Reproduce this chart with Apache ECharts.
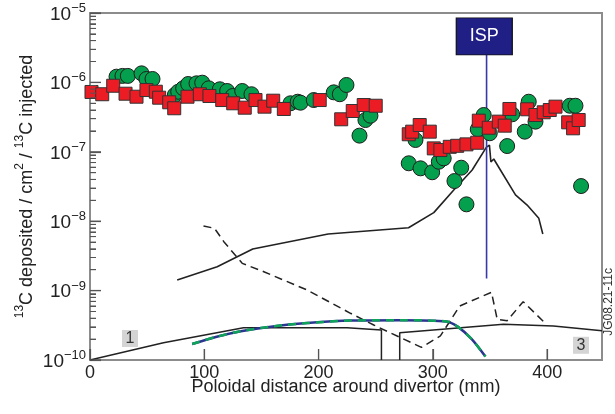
<!DOCTYPE html>
<html>
<head>
<meta charset="utf-8">
<script src="https://cdn.jsdelivr.net/npm/echarts@6/dist/echarts.min.js"></script>
<style>html,body{margin:0;padding:0;background:#fff}#c{width:615px;height:414px}</style>
</head>
<body>
<div id="c"></div>
<script>
// ---- data ----
var circleX = [23.2,28.4,33.1,45.1,49.4,54.7,74.2,77.2,81.5,85.9,93.2,98.2,103.9,113.6,120,124.9,133.2,141.3,175.4,181.8,184.2,195.8,213.3,218.6,224.4,235.8,241,245.4,284.8,278.9,289.2,299.4,305.2,309.5,318.9,324.8,329.4,339.3,344.5,349.8,365,369.4,380.4,383.9,389.8,419.8,424.8,429.7];
var circleY = [1.21e-6,1.24e-6,1.24e-6,1.35e-6,1.12e-6,1.12e-6,6.58e-7,7.34e-7,8.22e-7,9.48e-7,9.70e-7,9.91e-7,8.22e-7,7.96e-7,7.52e-7,6.37e-7,7.52e-7,6.75e-7,5.00e-7,5.27e-7,5.10e-7,5.57e-7,7.19e-7,6.75e-7,9.18e-7,1.71e-7,2.87e-7,3.31e-7,1.48e-7,6.83e-8,5.78e-8,5.07e-8,7.19e-8,8.05e-8,3.79e-8,5.90e-8,1.75e-8,2.11e-7,3.39e-7,1.85e-7,1.21e-7,3.47e-7,1.95e-7,5.27e-7,2.72e-7,4.61e-7,4.61e-7,3.21e-8];
var squareX = [1.3,10.7,20.3,31.1,40.7,49.4,57.6,60.5,69.3,73.7,85.3,96.1,104.5,115.7,125.3,135.4,144.8,152.7,160.3,169.6,201,219.8,229.9,239.5,250,278.9,281.9,288.5,297.3,300.8,306.6,314.8,321.3,329.4,338.8,340.2,348.9,357.7,362.9,367,382.5,389.8,397,402.3,407.3,418.4,422.7,427.6];
var squareY = [7.28e-7,6.75e-7,8.95e-7,6.87e-7,6.22e-7,7.76e-7,7.34e-7,6.02e-7,5.17e-7,4.24e-7,6.22e-7,6.75e-7,6.37e-7,5.57e-7,5.00e-7,4.32e-7,5.57e-7,4.47e-7,5.45e-7,4.14e-7,5.57e-7,2.94e-7,3.87e-7,4.72e-7,4.61e-7,1.79e-7,1.95e-7,2.43e-7,1.95e-7,1.12e-7,1.06e-7,1.18e-7,1.22e-7,1.28e-7,1.35e-7,2.81e-7,2.22e-7,2.72e-7,2.38e-7,4.14e-7,4.10e-7,3.39e-7,3.71e-7,4.00e-7,4.47e-7,2.66e-7,2.18e-7,2.87e-7];
var peakX = [76.3,111.3,142.4,208.4,278.7,300.8,318.3,334.4,346.9,349.5,350.8,353.3,359.1,372.3,382.5,392.7,396.2];
var peakY = [1.42e-9,2.21e-9,3.97e-9,6.54e-9,8.06e-9,1.33e-8,2.82e-8,5.47e-8,1.17e-7,1.25e-7,7.13e-8,7.87e-8,5.47e-8,2.39e-8,1.71e-8,1.10e-8,6.54e-9];
var dashX = [99.3,108.9,117.1,133.2,152.1,190,227.9,248.3,290,306.6,323.5,351.3,356.3,365,379,397];
var dashY = [8.53e-9,7.91e-9,5.07e-9,2.47e-9,1.87e-9,1.02e-9,4.71e-10,3.19e-10,1.52e-10,2.22e-10,6.0e-10,9.46e-10,3.86e-10,3.68e-10,6.92e-10,3.56e-10];
var lowX = [0,64.3,134.3,225,255,255,null,271,271,361.8,405.5,448];
var lowY = [1e-10,1.77e-10,2.92e-10,2.92e-10,2.70e-10,1e-10,null,1e-10,2.47e-10,3.27e-10,3.09e-10,2.64e-10];
var greenX = [89.4,110,132,160,190,228,272,312,322,334,346];
var greenY = [1.70e-10,2.15e-10,2.6e-10,3.05e-10,3.4e-10,3.7e-10,3.75e-10,3.6e-10,3.0e-10,2.0e-10,1.12e-10];
var ispX = 347;
var ispY = [1.5e-9,2.5e-6];
var xTicks = [0,100,200,300,400];
var yTicks = [1e-10,1e-9,1e-8,1e-7,1e-6,1e-5];

function zip(a,b){var r=[];for(var i=0;i<a.length;i++){r.push(a[i]===null?[null,null]:[a[i],b[i]]);}return r;}
var minor=[];
for(var e=-10;e<-5;e++){for(var k=2;k<=9;k++){minor.push(k*Math.pow(10,e));}}
var tickData=[];
xTicks.forEach(function(v){tickData.push([v,1e-10,0]);});
yTicks.forEach(function(v){tickData.push([0,v,1]);});
minor.forEach(function(v){tickData.push([0,v,2]);});

var FONT='"Liberation Sans", Arial, sans-serif';
var chart=echarts.init(document.getElementById('c'),null,{renderer:'canvas'});
var axisGray='#8c8c8c';
var tickColor='#555';
chart.setOption({
  animation:false,
  grid:{left:90,right:13,top:13,bottom:54,containLabel:false,outerBoundsMode:'none',show:true,borderColor:axisGray,borderWidth:2,backgroundColor:'transparent'},
  xAxis:{type:'value',min:0,max:448,interval:100,
    name:'Poloidal distance around divertor (mm)',nameLocation:'middle',nameGap:18,nameMoveOverlap:false,
    nameTextStyle:{fontSize:18,color:'#222',fontFamily:FONT},
    axisLine:{show:true,lineStyle:{color:axisGray,width:2}},
    axisTick:{show:true,inside:true,length:11,lineStyle:{color:tickColor,width:1.2}},
    axisLabel:{showMaxLabel:false,fontSize:18,color:'#222',margin:4,fontFamily:FONT},
    splitLine:{show:false}},
  yAxis:{type:'log',min:1e-10,max:1e-5,
    name:'{s|13}{n|C deposited / cm}{s|2}{n| / }{s|13}{n|C injected}',nameLocation:'middle',nameGap:54,nameRotate:90,nameMoveOverlap:false,
    nameTextStyle:{color:'#222',fontFamily:FONT,rich:{n:{fontSize:18,lineHeight:22,verticalAlign:'bottom',fontFamily:FONT,color:'#222'},s:{fontSize:12,lineHeight:22,verticalAlign:'top',fontFamily:FONT,color:'#222'}}},
    axisLine:{show:true,lineStyle:{color:axisGray,width:2}},
    axisTick:{show:true,inside:true,length:11,lineStyle:{color:tickColor,width:1.2}},
    minorTick:{show:true,splitNumber:9,length:6,lineStyle:{color:tickColor,width:1}},
    axisLabel:{margin:4,color:'#222',
      formatter:function(v){var p=Math.round(Math.log(v)/Math.LN10);return '{b|10}{s|\u2212'+(-p)+'}';},
      rich:{b:{fontSize:19,lineHeight:22,verticalAlign:'bottom',fontFamily:FONT,color:'#222'},s:{fontSize:13,lineHeight:22,verticalAlign:'top',fontFamily:FONT,color:'#222'}}},
    splitLine:{show:false}},
  series:[
    {type:'custom',data:tickData,silent:true,z:8,
      renderItem:function(params,api){
        var t=api.value(2);var p=api.coord([api.value(0),api.value(1)]);var len=(t===2)?6:11;
        var shape=(t===0)?{x1:p[0],y1:p[1],x2:p[0],y2:p[1]-len}:{x1:p[0],y1:p[1],x2:p[0]+len,y2:p[1]};
        return {type:'line',shape:shape,style:{stroke:tickColor,lineWidth:(t===2)?1:1.2}};
      }},
    {type:'line',data:zip(lowX,lowY),showSymbol:false,connectNulls:false,lineStyle:{color:'#222',width:1.5},z:2},
    {type:'line',data:zip(greenX,greenY),showSymbol:false,smooth:0.3,lineStyle:{color:'#2b3590',width:2.5},z:2},
    {type:'line',data:zip(greenX,greenY),showSymbol:false,smooth:0.3,lineStyle:{color:'#0fa35a',width:2.5,type:[8,6]},z:3},
    {type:'line',data:zip(dashX,dashY),showSymbol:false,lineStyle:{color:'#222',width:1.5,type:[8,5]},z:2},
    {type:'line',data:zip(peakX,peakY),showSymbol:false,lineStyle:{color:'#222',width:1.6},z:2},
    {type:'line',data:[[ispX,ispY[0]],[ispX,ispY[1]]],showSymbol:false,lineStyle:{color:'#3838a8',width:1.6},z:4},
    {type:'scatter',data:zip(circleX,circleY),symbol:'circle',symbolSize:15,
      itemStyle:{color:'#05a04d',borderColor:'#1d1d1d',borderWidth:1,opacity:1},z:5},
    {type:'scatter',data:zip(squareX,squareY),symbol:'rect',symbolSize:13,
      itemStyle:{color:'#ec1c24',borderColor:'#333',borderWidth:1,opacity:1},z:6},
    {type:'scatter',data:[[345,4.6e-6]],symbol:'rect',symbolSize:[56,37],
      itemStyle:{color:'#1f1f85',borderColor:'#111',borderWidth:1,opacity:1},
      label:{show:true,position:'inside',formatter:'ISP',color:'#fff',fontSize:18,fontFamily:FONT},z:7},
    {type:'scatter',data:[[35,2.04e-10]],symbol:'rect',symbolSize:[16,17],
      itemStyle:{color:'#d4d4d4',opacity:1},
      label:{show:true,position:'inside',formatter:'1',color:'#333',fontSize:16,fontFamily:FONT},z:7},
    {type:'scatter',data:[[429.6,1.63e-10]],symbol:'rect',symbolSize:[16,17],
      itemStyle:{color:'#d4d4d4',opacity:1},
      label:{show:true,position:'inside',formatter:'3',color:'#333',fontSize:16,fontFamily:FONT},z:7}
  ],
  graphic:[{type:'text',left:603,top:268,rotation:Math.PI/2,
    style:{text:'JG08.21-11c',fontSize:12,fill:'#333',fontFamily:FONT}}]
});
try{chart.getZr().refreshImmediately();}catch(e){}
</script>
</body>
</html>
